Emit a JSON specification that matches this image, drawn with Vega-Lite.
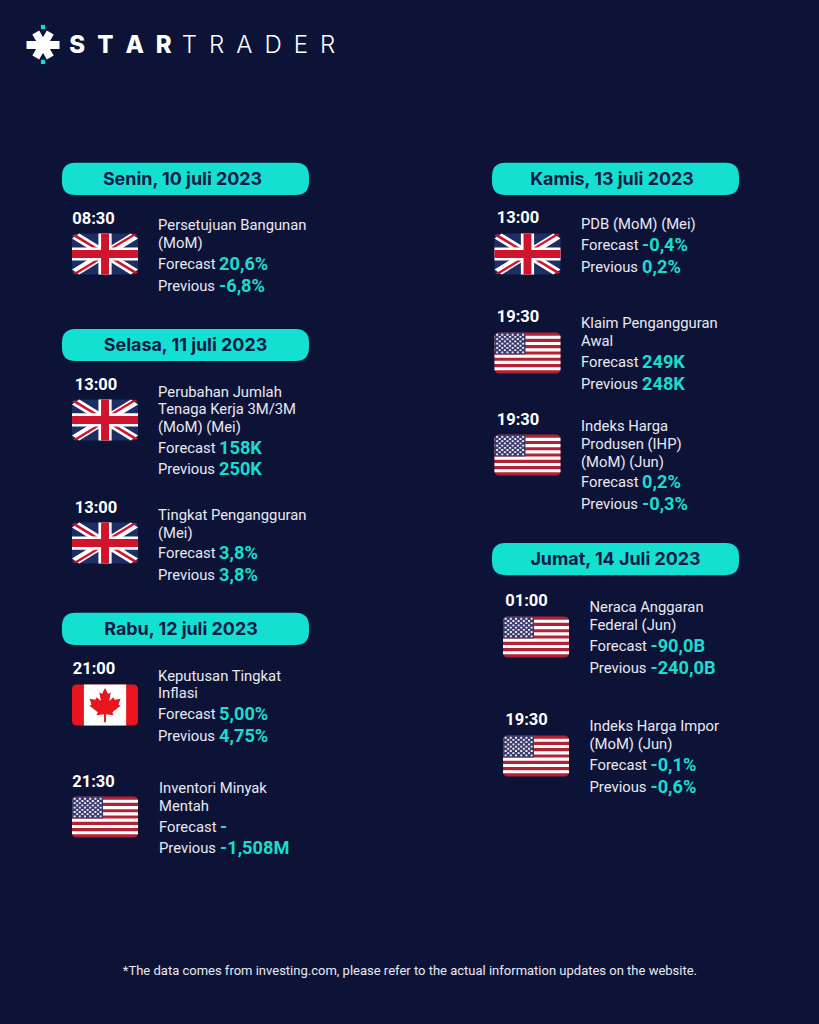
{
  "$schema": "https://vega.github.io/schema/vega-lite/v6.json",
  "width": 819,
  "height": 1024,
  "autosize": {"type": "fit", "contains": "padding"},
  "padding": 0,
  "background": "#0d1337",
  "config": {"view": {"stroke": null}},
  "data": {
    "values": [
      {"kind": "mark", "col": 4.78, "line": 2.5},
      {"kind": "dot", "col": 4.78, "line": 1.5},
      {"kind": "dot", "col": 4.78, "line": 3.44},
      {"kind": "brand", "col": 7.7, "line": 2.44, "text": "S\u2002T\u2002A\u2002R"},
      {"kind": "brandLight", "col": 20.2, "line": 2.44, "text": "T\u2002R\u2002A\u2002D\u2002E\u2002R"},
      {"kind": "day", "col": 20.61, "textCol": 20.28, "line": 9.94, "text": "Senin, 10 juli 2023"},
      {"kind": "day", "col": 20.61, "textCol": 20.61, "line": 19.17, "text": "Selasa, 11 juli 2023"},
      {"kind": "day", "col": 20.61, "textCol": 20.11, "line": 34.94, "text": "Rabu, 12 juli 2023"},
      {"kind": "day", "col": 68.39, "textCol": 68, "line": 9.94, "text": "Kamis, 13 juli 2023"},
      {"kind": "day", "col": 68.39, "textCol": 68.39, "line": 31.06, "text": "Jumat, 14 Juli 2023"},
      {"kind": "time", "col": 10.39, "line": 12.11, "text": "08:30"},
      {"kind": "time", "col": 10.67, "line": 21.33, "text": "13:00"},
      {"kind": "time", "col": 10.67, "line": 28.17, "text": "13:00"},
      {"kind": "time", "col": 10.44, "line": 37.11, "text": "21:00"},
      {"kind": "time", "col": 10.39, "line": 43.39, "text": "21:30"},
      {"kind": "time", "col": 57.56, "line": 12.06, "text": "13:00"},
      {"kind": "time", "col": 57.56, "line": 17.56, "text": "19:30"},
      {"kind": "time", "col": 57.56, "line": 23.28, "text": "19:30"},
      {"kind": "time", "col": 58.5, "line": 33.33, "text": "01:00"},
      {"kind": "time", "col": 58.5, "line": 39.94, "text": "19:30"},
      {"kind": "flag", "col": 11.67, "line": 14.11, "country": "GB"},
      {"kind": "flag", "col": 11.67, "line": 23.33, "country": "GB"},
      {"kind": "flag", "col": 11.67, "line": 30.17, "country": "GB"},
      {"kind": "flag", "col": 11.67, "line": 39.17, "country": "CA"},
      {"kind": "flag", "col": 11.67, "line": 45.39, "country": "US"},
      {"kind": "flag", "col": 58.61, "line": 14.11, "country": "GB"},
      {"kind": "flag", "col": 58.61, "line": 19.61, "country": "US"},
      {"kind": "flag", "col": 58.61, "line": 25.28, "country": "US"},
      {"kind": "flag", "col": 59.56, "line": 35.39, "country": "US"},
      {"kind": "flag", "col": 59.56, "line": 42, "country": "US"},
      {"kind": "title", "col": 17.56, "line": 12.5, "text": "Persetujuan Bangunan"},
      {"kind": "title", "col": 17.56, "line": 13.5, "text": "(MoM)"},
      {"kind": "stat", "col": 17.56, "line": 14.67, "text": "Forecast", "value": "20,6%"},
      {"kind": "stat", "col": 17.56, "line": 15.89, "text": "Previous", "value": "-6,8%"},
      {"kind": "title", "col": 17.56, "line": 21.78, "text": "Perubahan Jumlah"},
      {"kind": "title", "col": 17.56, "line": 22.72, "text": "Tenaga Kerja 3M/3M"},
      {"kind": "title", "col": 17.56, "line": 23.72, "text": "(MoM) (Mei)"},
      {"kind": "stat", "col": 17.56, "line": 24.89, "text": "Forecast", "value": "158K"},
      {"kind": "stat", "col": 17.56, "line": 26.06, "text": "Previous", "value": "250K"},
      {"kind": "title", "col": 17.56, "line": 28.61, "text": "Tingkat Pengangguran"},
      {"kind": "title", "col": 17.56, "line": 29.61, "text": "(Mei)"},
      {"kind": "stat", "col": 17.56, "line": 30.72, "text": "Forecast", "value": "3,8%"},
      {"kind": "stat", "col": 17.56, "line": 31.94, "text": "Previous", "value": "3,8%"},
      {"kind": "title", "col": 17.56, "line": 37.56, "text": "Keputusan Tingkat"},
      {"kind": "title", "col": 17.56, "line": 38.5, "text": "Inflasi"},
      {"kind": "stat", "col": 17.56, "line": 39.67, "text": "Forecast", "value": "5,00%"},
      {"kind": "stat", "col": 17.56, "line": 40.89, "text": "Previous", "value": "4,75%"},
      {"kind": "title", "col": 17.67, "line": 43.78, "text": "Inventori Minyak"},
      {"kind": "title", "col": 17.67, "line": 44.78, "text": "Mentah"},
      {"kind": "stat", "col": 17.67, "line": 45.94, "text": "Forecast", "value": "-"},
      {"kind": "stat", "col": 17.67, "line": 47.11, "text": "Previous", "value": "-1,508M"},
      {"kind": "title", "col": 64.56, "line": 12.44, "text": "PDB (MoM) (Mei)"},
      {"kind": "stat", "col": 64.56, "line": 13.61, "text": "Forecast", "value": "-0,4%"},
      {"kind": "stat", "col": 64.56, "line": 14.83, "text": "Previous", "value": "0,2%"},
      {"kind": "title", "col": 64.56, "line": 17.94, "text": "Klaim Pengangguran"},
      {"kind": "title", "col": 64.56, "line": 18.94, "text": "Awal"},
      {"kind": "stat", "col": 64.56, "line": 20.11, "text": "Forecast", "value": "249K"},
      {"kind": "stat", "col": 64.56, "line": 21.33, "text": "Previous", "value": "248K"},
      {"kind": "title", "col": 64.56, "line": 23.67, "text": "Indeks Harga"},
      {"kind": "title", "col": 64.56, "line": 24.67, "text": "Produsen (IHP)"},
      {"kind": "title", "col": 64.56, "line": 25.67, "text": "(MoM) (Jun)"},
      {"kind": "stat", "col": 64.56, "line": 26.78, "text": "Forecast", "value": "0,2%"},
      {"kind": "stat", "col": 64.56, "line": 28, "text": "Previous", "value": "-0,3%"},
      {"kind": "title", "col": 65.5, "line": 33.72, "text": "Neraca Anggaran"},
      {"kind": "title", "col": 65.5, "line": 34.72, "text": "Federal (Jun)"},
      {"kind": "stat", "col": 65.5, "line": 35.89, "text": "Forecast", "value": "-90,0B"},
      {"kind": "stat", "col": 65.5, "line": 37.11, "text": "Previous", "value": "-240,0B"},
      {"kind": "title", "col": 65.5, "line": 40.33, "text": "Indeks Harga Impor"},
      {"kind": "title", "col": 65.5, "line": 41.33, "text": "(MoM) (Jun)"},
      {"kind": "stat", "col": 65.5, "line": 42.5, "text": "Forecast", "value": "-0,1%"},
      {"kind": "stat", "col": 65.5, "line": 43.72, "text": "Previous", "value": "-0,6%"},
      {"kind": "note", "col": 45.55, "line": 53.89, "text": "*The data comes from investing.com, please refer to the actual information updates on the website."}
    ]
  },
  "encoding": {
    "x": {"field": "col", "type": "quantitative", "axis": null, "scale": {"domain": [0, 91], "nice": false, "zero": false}},
    "y": {"field": "line", "type": "quantitative", "axis": null, "scale": {"domain": [0, 56.889], "reverse": true, "nice": false, "zero": false}}
  },
  "layer": [
    {
      "transform": [{"filter": "datum.kind == 'mark'"}],
      "mark": {"type": "point", "filled": true, "fill": "#ffffff", "opacity": 1, "strokeWidth": 0, "size": 1089, "shape": "M-1 -.24 L1 -.24 L1 .24 L-1 .24 Z M-.232 -.88 L.648 .64 L.232 .88 L-.648 -.64 Z M-.648 .64 L.232 -.88 L.648 -.64 L-.232 .88 Z"}
    },
    {
      "transform": [{"filter": "datum.kind == 'dot'"}],
      "mark": {"type": "square", "fill": "#19d9cc", "opacity": 1, "strokeWidth": 0, "size": 18}
    },
    {
      "transform": [{"filter": "datum.kind == 'brand'"}],
      "mark": {"type": "text", "font": "Inter", "fontWeight": 800, "fontSize": 24, "align": "left", "baseline": "middle", "dy": 2, "color": "#ffffff"},
      "encoding": {"text": {"field": "text"}}
    },
    {
      "transform": [{"filter": "datum.kind == 'brandLight'"}],
      "mark": {"type": "text", "font": "Inter", "fontWeight": 300, "fontSize": 24, "align": "left", "baseline": "middle", "dy": 2, "color": "#ffffff"},
      "encoding": {"text": {"field": "text"}}
    },
    {
      "transform": [{"filter": "datum.kind == 'day'"}],
      "mark": {"type": "point", "filled": true, "fill": "#14e0d2", "opacity": 1, "strokeWidth": 0, "size": 61009, "shape": "M-.89 -.13 L.89 -.13 Q1 -.13 1 -.02 L1 .02 Q1 .13 .89 .13 L-.89 .13 Q-1 .13 -1 .02 L-1 -.02 Q-1 -.13 -.89 -.13 Z"}
    },
    {
      "transform": [{"filter": "datum.kind == 'day'"}],
      "mark": {"type": "text", "font": "Inter", "fontWeight": 700, "fontSize": 17.9, "align": "center", "baseline": "middle", "dy": 1, "color": "#0c1a45"},
      "encoding": {"x": {"field": "textCol", "type": "quantitative"}, "text": {"field": "text"}}
    },
    {
      "transform": [{"filter": "datum.kind == 'time'"}],
      "mark": {"type": "text", "font": "Roboto", "fontWeight": 700, "fontSize": 16.5, "align": "center", "baseline": "middle", "dy": 1, "color": "#ffffff"},
      "encoding": {"text": {"field": "text"}}
    },
    {
      "transform": [{"filter": "datum.country == 'GB'"}],
      "layer": [
        {"mark": {"type": "point", "filled": true, "fill": "#1c2e63", "opacity": 1, "strokeWidth": 0, "size": 4356, "shape": "M-.85 -.62 L.85 -.62 Q1 -.62 1 -.47 L1 .47 Q1 .62 .85 .62 L-.85 .62 Q-1 .62 -1 .47 L-1 -.47 Q-1 -.62 -.85 -.62 Z"}},
        {"mark": {"type": "point", "filled": true, "fill": "#ffffff", "opacity": 1, "strokeWidth": 0, "size": 4356, "shape": "M-1 -.47 L-.78 -.62 L1 .47 L.78 .62 Z M1 -.47 L.78 -.62 L-1 .47 L-.78 .62 Z"}},
        {"mark": {"type": "point", "filled": true, "fill": "#cf142b", "opacity": 1, "strokeWidth": 0, "size": 4356, "shape": "M-1 -.56 L-.9 -.6 L-.12 -.12 L-.26 -.12 Z M.98 -.6 L.12 -.08 L.12 -.16 L.84 -.6 Z M1 .56 L.9 .6 L.12 .12 L.26 .12 Z M-.98 .6 L-.12 .08 L-.12 .16 L-.84 .6 Z"}},
        {"mark": {"type": "point", "filled": true, "fill": "#ffffff", "opacity": 1, "strokeWidth": 0, "size": 4356, "shape": "M-.2 -.62 L.2 -.62 L.2 -.2 L1 -.2 L1 .2 L.2 .2 L.2 .62 L-.2 .62 L-.2 .2 L-1 .2 L-1 -.2 L-.2 -.2 Z"}},
        {"mark": {"type": "point", "filled": true, "fill": "#cf142b", "opacity": 1, "strokeWidth": 0, "size": 4356, "shape": "M-.12 -.62 L.12 -.62 L.12 -.12 L1 -.12 L1 .12 L.12 .12 L.12 .62 L-.12 .62 L-.12 .12 L-1 .12 L-1 -.12 L-.12 -.12 Z"}}
      ]
    },
    {
      "transform": [{"filter": "datum.country == 'CA'"}],
      "layer": [
        {"mark": {"type": "point", "filled": true, "fill": "#e8151f", "opacity": 1, "strokeWidth": 0, "size": 4356, "shape": "M-.85 -.62 L.85 -.62 Q1 -.62 1 -.47 L1 .47 Q1 .62 .85 .62 L-.85 .62 Q-1 .62 -1 .47 L-1 -.47 Q-1 -.62 -.85 -.62 Z"}},
        {"mark": {"type": "point", "filled": true, "fill": "#ffffff", "opacity": 1, "strokeWidth": 0, "size": 4356, "shape": "M-.64 -.62 L.64 -.62 L.64 .62 L-.64 .62 Z"}},
        {"mark": {"type": "point", "filled": true, "fill": "#e8151f", "opacity": 1, "strokeWidth": 0, "size": 4356, "shape": "M0 -.52 L.09 -.34 L.17 -.38 L.13 -.12 L.25 -.24 L.29 -.16 L.47 -.19 L.41 -.02 L.47 .02 L.22 .22 L.26 .31 L.03 .28 L.03 .52 L-.03 .52 L-.03 .28 L-.26 .31 L-.22 .22 L-.47 .02 L-.41 -.02 L-.47 -.19 L-.29 -.16 L-.25 -.24 L-.13 -.12 L-.17 -.38 L-.09 -.34 Z"}}
      ]
    },
    {
      "transform": [{"filter": "datum.country == 'US'"}],
      "layer": [
        {"mark": {"type": "point", "filled": true, "fill": "#b22234", "opacity": 1, "strokeWidth": 0, "size": 4356, "shape": "M-.85 -.62 L.85 -.62 Q1 -.62 1 -.47 L1 .47 Q1 .62 .85 .62 L-.85 .62 Q-1 .62 -1 .47 L-1 -.47 Q-1 -.62 -.85 -.62 Z"}},
        {"mark": {"type": "point", "filled": true, "fill": "#ffffff", "opacity": 1, "strokeWidth": 0, "size": 4356, "shape": "M-1 -.525 L1 -.525 L1 -.429 L-1 -.429 Z M-1 -.334 L1 -.334 L1 -.239 L-1 -.239 Z M-1 -.143 L1 -.143 L1 -.048 L-1 -.048 Z M-1 .048 L1 .048 L1 .143 L-1 .143 Z M-1 .239 L1 .239 L1 .334 L-1 .334 Z M-1 .429 L1 .429 L1 .525 L-1 .525 Z"}},
        {"mark": {"type": "point", "filled": true, "fill": "#3c3b6e", "opacity": 1, "strokeWidth": 0, "size": 4356, "shape": "M-.85 -.62 L-.06 -.62 L-.06 .048 L-1 .048 L-1 -.47 Q-1 -.62 -.85 -.62 Z"}},
        {"mark": {"type": "point", "filled": false, "fill": null, "stroke": "#ffffff", "opacity": 0.9, "strokeWidth": 1.8, "strokeDash": [2, 3.2], "size": 4356, "shape": "M-.952 -.553 L-.1 -.553 M-.873 -.486 L-.18 -.486 M-.952 -.42 L-.1 -.42 M-.873 -.353 L-.18 -.353 M-.952 -.286 L-.1 -.286 M-.873 -.219 L-.18 -.219 M-.952 -.152 L-.1 -.152 M-.873 -.086 L-.18 -.086 M-.952 -.019 L-.1 -.019"}}
      ]
    },
    {
      "transform": [{"filter": "datum.kind == 'title' || datum.kind == 'stat'"}],
      "mark": {"type": "text", "font": "Roboto", "fontSize": 14.8, "align": "left", "baseline": "middle", "dy": 1, "color": "#e9e9f2"},
      "encoding": {"text": {"field": "text"}}
    },
    {
      "transform": [{"filter": "datum.kind == 'stat'"}],
      "mark": {"type": "text", "font": "Roboto", "fontWeight": 700, "fontSize": 18.2, "align": "left", "baseline": "middle", "dx": 61, "dy": 1, "color": "#19dccf"},
      "encoding": {"text": {"field": "value"}}
    },
    {
      "transform": [{"filter": "datum.kind == 'note'"}],
      "mark": {"type": "text", "font": "Roboto", "fontSize": 13, "align": "center", "baseline": "middle", "dy": 1, "color": "#e9e9f2"},
      "encoding": {"text": {"field": "text"}}
    }
  ]
}
